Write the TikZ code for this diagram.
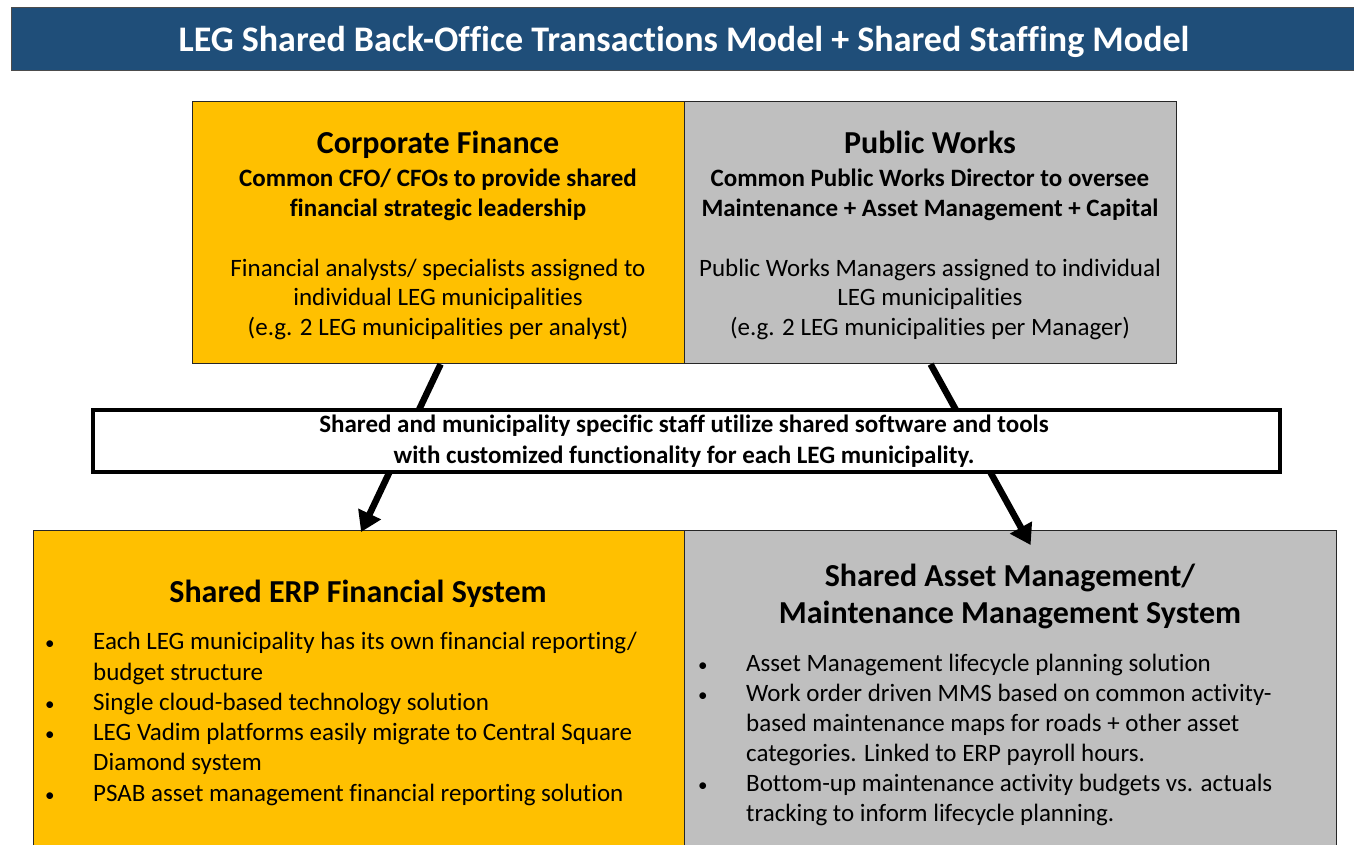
\documentclass[tikz,border=0pt]{standalone}
\usepackage{fontspec}
\setmainfont{Carlito}[Ligatures=NoCommon]
\usetikzlibrary{arrows.meta}
\definecolor{hdrblue}{HTML}{1F4E79}
\definecolor{goldbox}{HTML}{FFC000}
\definecolor{greybox}{HTML}{BFBFBF}
\begin{document}
\begin{tikzpicture}[x=1pt,y=-1pt,
  box/.style={draw=black!85, line width=1.2pt, inner sep=0, anchor=north west},
  hdrtxt/.style={font=\fontsize{36}{42}\selectfont\bfseries, text=white, anchor=base, inner sep=0},
  ttl/.style={font=\fontsize{32}{38}\selectfont\bfseries, anchor=base, inner sep=0},
  sub/.style={font=\fontsize{25}{30}\selectfont\bfseries, anchor=base, inner sep=0},
  body/.style={font=\fontsize{25}{30}\selectfont, anchor=base, inner sep=0},
  bl/.style={font=\fontsize{25}{30}\selectfont, anchor=base west, inner sep=0},
  bul/.style={font=\fontsize{19}{24}\selectfont, anchor=base west, inner sep=0},
  bigarrow/.style={line width=6.5pt, -{Triangle[length=20pt,width=24pt]}}
]
\useasboundingbox (0,0) rectangle (1354,845);
\clip (0,0) rectangle (1354,845);
\fill[white] (0,0) rectangle (1354,845);

% header
\node[box, draw=black!70, fill=hdrblue, minimum width=1360, minimum height=63] (hdr) at (11,7) {};
\node[hdrtxt] (hdrt) at (684,52) {LEG Shared Back-Office Transactions Model + Shared Staffing Model};

% top boxes
\node[box, fill=goldbox, minimum width=492, minimum height=262] (cf) at (192,101) {};
\node[box, fill=greybox, minimum width=492, minimum height=262] (pw) at (684,101) {};

\node[ttl] (cf1) at (438,154) {Corporate Finance};
\node[sub] (cf2) at (438,186) {Common CFO/ CFOs to provide shared};
\node[sub] (cf3) at (438,216) {financial strategic leadership};
\node[body] (cf4) at (438,276) {Financial analysts/ specialists assigned to};
\node[body] (cf5) at (438,305) {individual LEG municipalities};
\node[body] (cf6) at (438,335) {(e.g. 2 LEG municipalities per analyst)};

\node[ttl] (pw1) at (930,154) {Public Works};
\node[sub] (pw2) at (930,186) {Common Public Works Director to oversee};
\node[sub] (pw3) at (930,216) {Maintenance + Asset Management + Capital};
\node[body] (pw4) at (930,276) {Public Works Managers assigned to individual};
\node[body] (pw5) at (930,305) {LEG municipalities};
\node[body] (pw6) at (930,335) {(e.g. 2 LEG municipalities per Manager)};

% bottom boxes
\node[box, fill=goldbox, minimum width=651, minimum height=330] (erp) at (33,530) {};
\node[box, fill=greybox, minimum width=652, minimum height=330] (ams) at (684,530) {};

\node[ttl] (erp1) at (358,602) {Shared ERP Financial System};
\foreach \y/\t [count=\i] in {649/{Each LEG municipality has its own financial reporting/},
                               680/{budget structure},
                               710/{Single cloud-based technology solution},
                               740/{LEG Vadim platforms easily migrate to Central Square},
                               770/{Diamond system},
                               801/{PSAB asset management financial reporting solution}}
  \node[bl] (erpl\i) at (93,\y) {\t};
\foreach \y [count=\i] in {649,710,740,801}
  \node[bul] (erpb\i) at (45,\y) {•};

\node[ttl] (ams1) at (1010,586) {Shared Asset Management/};
\node[ttl] (ams2) at (1010,623) {Maintenance Management System};
\foreach \y/\t [count=\i] in {671/{Asset Management lifecycle planning solution},
                               701/{Work order driven MMS based on common activity-},
                               731/{based maintenance maps for roads + other asset},
                               761/{categories. Linked to ERP payroll hours.},
                               791/{Bottom-up maintenance activity budgets vs. actuals},
                               821/{tracking to inform lifecycle planning.}}
  \node[bl] (amsl\i) at (746,\y) {\t};
\foreach \y [count=\i] in {671,701,791}
  \node[bul] (amsb\i) at (698,\y) {•};

% arrows
\draw[bigarrow] ([xshift=2pt]cf.south) -- ([xshift=2pt, yshift=-2pt]erp.north);
\draw[bigarrow] (pw.south) -- ([xshift=20pt, yshift=-15pt]ams.north);

% middle box (on top of arrows)
\node[box, fill=white, draw=black, line width=3.5pt, minimum width=1187, minimum height=62] (mid) at (91,408) {};
\node[sub] (mid1) at (684,432) {Shared and municipality specific staff utilize shared software and tools};
\node[sub] (mid2) at (684,463) {with customized functionality for each LEG municipality.};
\end{tikzpicture}
\end{document}
